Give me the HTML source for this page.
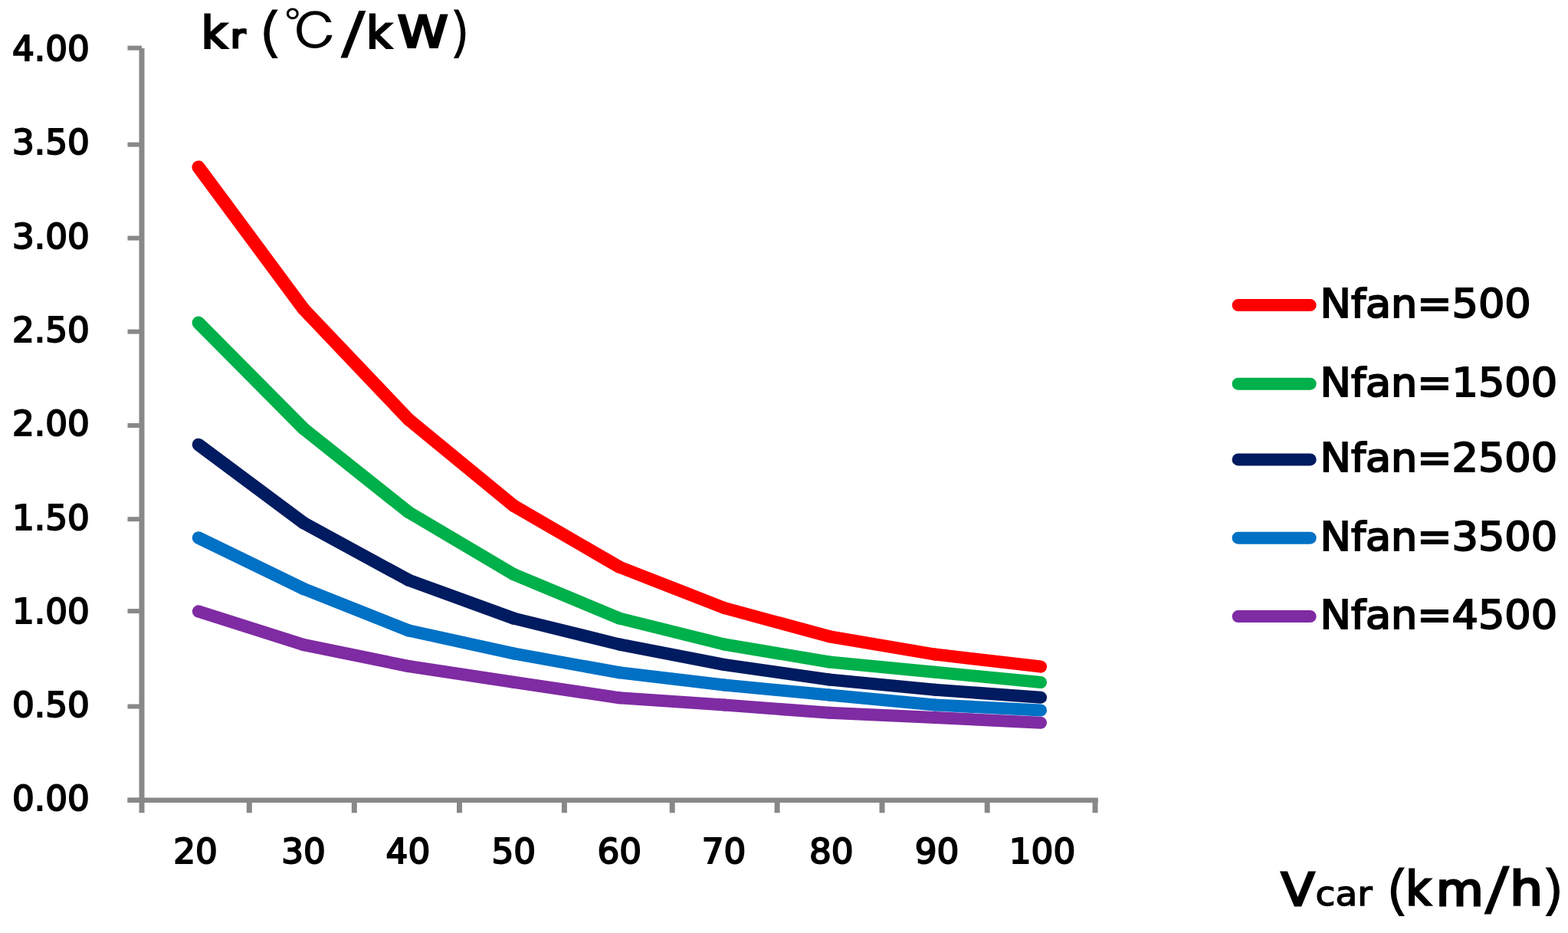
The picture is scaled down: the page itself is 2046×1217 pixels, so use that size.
<!DOCTYPE html>
<html><head><meta charset="utf-8"><title>kr vs Vcar chart</title>
<style>
html,body{margin:0;padding:0;background:#fff;}
body{width:2046px;height:1217px;overflow:hidden;}
svg{display:block;}
text{font-family:"DejaVu Sans", "Liberation Sans", sans-serif;font-weight:normal;fill:#000;}
text.b{font-weight:bold;}
text.cjk,tspan.cjk{font-family:"IPAGothic", "Noto Sans CJK JP", sans-serif;font-weight:normal;}
</style></head><body>
<svg width="2046" height="1217" viewBox="0 0 2046 1217">
<rect width="2046" height="1217" fill="#fff"/>
<g stroke="#888888">
<line x1="185" y1="63" x2="185" y2="1060.3" stroke-width="7"/>
<line x1="166.5" y1="1043.8" x2="1432.8" y2="1043.8" stroke-width="6.4"/>
<line x1="166.5" y1="62.6" x2="185" y2="62.6" stroke-width="6"/>
<line x1="166.5" y1="188.6" x2="185" y2="188.6" stroke-width="6"/>
<line x1="166.5" y1="310.6" x2="185" y2="310.6" stroke-width="6"/>
<line x1="166.5" y1="432.6" x2="185" y2="432.6" stroke-width="6"/>
<line x1="166.5" y1="555" x2="185" y2="555" stroke-width="6"/>
<line x1="166.5" y1="677.2" x2="185" y2="677.2" stroke-width="6"/>
<line x1="166.5" y1="797.1" x2="185" y2="797.1" stroke-width="6"/>
<line x1="166.5" y1="921.5" x2="185" y2="921.5" stroke-width="6"/>
<line x1="166.5" y1="1043.7" x2="185" y2="1043.7" stroke-width="6"/>
<line x1="325.3" y1="1043" x2="325.3" y2="1060.3" stroke-width="7"/>
<line x1="462.3" y1="1043" x2="462.3" y2="1060.3" stroke-width="7"/>
<line x1="599.5" y1="1043" x2="599.5" y2="1060.3" stroke-width="7"/>
<line x1="736.4" y1="1043" x2="736.4" y2="1060.3" stroke-width="7"/>
<line x1="877.2" y1="1043" x2="877.2" y2="1060.3" stroke-width="7"/>
<line x1="1014.1" y1="1043" x2="1014.1" y2="1060.3" stroke-width="7"/>
<line x1="1151.0" y1="1043" x2="1151.0" y2="1060.3" stroke-width="7"/>
<line x1="1288.2" y1="1043" x2="1288.2" y2="1060.3" stroke-width="7"/>
<line x1="1429" y1="1043" x2="1429" y2="1060.3" stroke-width="7"/>
</g>
<g font-weight="normal" stroke="#000" stroke-width="2.0">
<text transform="matrix(1.0000,0,0,0.9722,16.00,79.23)" font-size="45.3">4.00</text>
<text transform="matrix(1.0000,0,0,0.9722,16.00,201.43)" font-size="45.3">3.50</text>
<text transform="matrix(1.0000,0,0,0.9722,16.00,323.73)" font-size="45.3">3.00</text>
<text transform="matrix(1.0000,0,0,0.9722,16.00,445.83)" font-size="45.3">2.50</text>
<text transform="matrix(1.0000,0,0,0.9722,16.00,567.93)" font-size="45.3">2.00</text>
<text transform="matrix(1.0000,0,0,0.9722,16.00,690.53)" font-size="45.3">1.50</text>
<text transform="matrix(1.0000,0,0,0.9722,16.00,813.23)" font-size="45.3">1.00</text>
<text transform="matrix(1.0000,0,0,0.9722,16.00,934.73)" font-size="45.3">0.50</text>
<text transform="matrix(1.0000,0,0,0.9722,16.00,1057.03)" font-size="45.3">0.00</text>
<text transform="matrix(1.0000,0,0,0.9722,255.00,1126.23)" font-size="45.3" text-anchor="middle">20</text>
<text transform="matrix(1.0000,0,0,0.9722,396.00,1126.23)" font-size="45.3" text-anchor="middle">30</text>
<text transform="matrix(1.0000,0,0,0.9722,532.40,1126.23)" font-size="45.3" text-anchor="middle">40</text>
<text transform="matrix(1.0000,0,0,0.9722,670.30,1126.23)" font-size="45.3" text-anchor="middle">50</text>
<text transform="matrix(1.0000,0,0,0.9722,808.20,1126.23)" font-size="45.3" text-anchor="middle">60</text>
<text transform="matrix(1.0000,0,0,0.9722,944.50,1126.23)" font-size="45.3" text-anchor="middle">70</text>
<text transform="matrix(1.0000,0,0,0.9722,1084.80,1126.23)" font-size="45.3" text-anchor="middle">80</text>
<text transform="matrix(1.0000,0,0,0.9722,1222.60,1126.23)" font-size="45.3" text-anchor="middle">90</text>
<text transform="matrix(1.0000,0,0,0.9722,1360.00,1126.23)" font-size="45.3" text-anchor="middle">100</text>
</g>
<g stroke="#FF0000" stroke-linecap="round"><line x1="259" y1="218" x2="396" y2="403" stroke-width="17.20"/><line x1="396" y1="403" x2="533" y2="547" stroke-width="16.93"/><line x1="533" y1="547" x2="670" y2="659.5" stroke-width="16.73"/><line x1="670" y1="659.5" x2="808" y2="739.5" stroke-width="16.52"/><line x1="808" y1="739.5" x2="945" y2="793" stroke-width="16.35"/><line x1="945" y1="793" x2="1082" y2="830.2" stroke-width="16.24"/><line x1="1082" y1="830.2" x2="1220" y2="853.6" stroke-width="16.15"/><line x1="1220" y1="853.6" x2="1358" y2="869.6" stroke-width="16.10"/></g>
<g stroke="#00B04A" stroke-linecap="round"><line x1="259" y1="421" x2="396" y2="559" stroke-width="16.90"/><line x1="396" y1="559" x2="533" y2="668" stroke-width="16.71"/><line x1="533" y1="668" x2="670" y2="749" stroke-width="16.53"/><line x1="670" y1="749" x2="808" y2="806.5" stroke-width="16.37"/><line x1="808" y1="806.5" x2="945" y2="840.5" stroke-width="16.22"/><line x1="945" y1="840.5" x2="1082" y2="863.5" stroke-width="16.15"/><line x1="1082" y1="863.5" x2="1220" y2="876.7" stroke-width="16.09"/><line x1="1220" y1="876.7" x2="1358" y2="890" stroke-width="16.09"/></g>
<g stroke="#001B60" stroke-linecap="round"><line x1="259" y1="580" x2="396" y2="682" stroke-width="16.66"/><line x1="396" y1="682" x2="533" y2="756.6" stroke-width="16.48"/><line x1="533" y1="756.6" x2="670" y2="806.5" stroke-width="16.32"/><line x1="670" y1="806.5" x2="808" y2="840.5" stroke-width="16.22"/><line x1="808" y1="840.5" x2="945" y2="867" stroke-width="16.17"/><line x1="945" y1="867" x2="1082" y2="886.5" stroke-width="16.13"/><line x1="1082" y1="886.5" x2="1220" y2="899.8" stroke-width="16.09"/><line x1="1220" y1="899.8" x2="1358" y2="909.8" stroke-width="16.06"/></g>
<g stroke="#0071C5" stroke-linecap="round"><line x1="259" y1="701.5" x2="396" y2="768" stroke-width="16.43"/><line x1="396" y1="768" x2="533" y2="822.4" stroke-width="16.35"/><line x1="533" y1="822.4" x2="670" y2="852.4" stroke-width="16.19"/><line x1="670" y1="852.4" x2="808" y2="877.3" stroke-width="16.16"/><line x1="808" y1="877.3" x2="945" y2="893.5" stroke-width="16.11"/><line x1="945" y1="893.5" x2="1082" y2="906.6" stroke-width="16.08"/><line x1="1082" y1="906.6" x2="1220" y2="919.5" stroke-width="16.08"/><line x1="1220" y1="919.5" x2="1358" y2="926.5" stroke-width="16.05"/></g>
<g stroke="#7F2BA3" stroke-linecap="round"><line x1="259" y1="797.5" x2="396" y2="841" stroke-width="16.28"/><line x1="396" y1="841" x2="533" y2="869" stroke-width="16.18"/><line x1="533" y1="869" x2="670" y2="889.8" stroke-width="16.13"/><line x1="670" y1="889.8" x2="808" y2="910.3" stroke-width="16.13"/><line x1="808" y1="910.3" x2="945" y2="919.6" stroke-width="16.06"/><line x1="945" y1="919.6" x2="1082" y2="929.7" stroke-width="16.07"/><line x1="1082" y1="929.7" x2="1220" y2="936" stroke-width="16.04"/><line x1="1220" y1="936" x2="1358" y2="942.8" stroke-width="16.04"/></g>
<g font-weight="normal" stroke="#000" stroke-width="2.1">
<line x1="1615.6" y1="398.1" x2="1709.7" y2="398.1" stroke="#FF0000" stroke-width="16" stroke-linecap="round"/>
<text transform="matrix(1.0100,0,0,0.9561,1722.46,414.04)" font-size="53.5">Nfan=500</text>
<line x1="1615.6" y1="500.7" x2="1709.7" y2="500.7" stroke="#00B04A" stroke-width="16" stroke-linecap="round"/>
<text transform="matrix(1.0100,0,0,0.9561,1722.46,516.64)" font-size="53.5">Nfan=1500</text>
<line x1="1615.6" y1="599.4" x2="1709.7" y2="599.4" stroke="#001B60" stroke-width="16" stroke-linecap="round"/>
<text transform="matrix(1.0100,0,0,0.9561,1722.46,615.34)" font-size="53.5">Nfan=2500</text>
<line x1="1615.6" y1="701.7" x2="1709.7" y2="701.7" stroke="#0071C5" stroke-width="16" stroke-linecap="round"/>
<text transform="matrix(1.0100,0,0,0.9561,1722.46,717.64)" font-size="53.5">Nfan=3500</text>
<line x1="1615.6" y1="804.1" x2="1709.7" y2="804.1" stroke="#7F2BA3" stroke-width="16" stroke-linecap="round"/>
<text transform="matrix(1.0100,0,0,0.9561,1722.46,820.04)" font-size="53.5">Nfan=4500</text>
</g>
<text><tspan x="262.87" y="61.62" font-size="57.62" textLength="33.55" lengthAdjust="spacingAndGlyphs" stroke="#000" stroke-width="3.0">k</tspan><tspan x="300.96" y="61.67" font-size="42.88" textLength="19.14" lengthAdjust="spacingAndGlyphs" stroke="#000" stroke-width="3.0">r</tspan> <tspan x="337.86" y="65.85" font-size="67.27" textLength="29.78" lengthAdjust="spacingAndGlyphs" style="font-weight:200" stroke="#000" stroke-width="3.2">(</tspan><tspan x="370.29" y="64.83" font-size="65.90" textLength="71.04" lengthAdjust="spacingAndGlyphs" class="cjk" stroke="none">℃</tspan><tspan x="445.70" y="66.82" font-size="70.75" textLength="30.23" lengthAdjust="spacingAndGlyphs" style="font-weight:200" stroke="#000" stroke-width="3.2">/</tspan><tspan x="478.17" y="61.63" font-size="57.24" textLength="32.72" lengthAdjust="spacingAndGlyphs" stroke="#000" stroke-width="3.0">k</tspan><tspan x="518.80" y="61.65" font-size="56.12" textLength="65.79" lengthAdjust="spacingAndGlyphs" stroke="#000" stroke-width="3.0">W</tspan><tspan x="587.48" y="65.90" font-size="66.95" textLength="24.90" lengthAdjust="spacingAndGlyphs" style="font-weight:200" stroke="#000" stroke-width="3.2">)</tspan></text>
<text><tspan x="1671.83" y="1181.24" font-size="59.29" textLength="43.55" lengthAdjust="spacingAndGlyphs" stroke="#000" stroke-width="3.0">V</tspan><tspan x="1716.58" y="1181.24" font-size="44.78" textLength="74.00" lengthAdjust="spacingAndGlyphs" stroke="#000" stroke-width="1.4">car</tspan> <tspan x="1808.32" y="1184.83" font-size="67.85" textLength="29.42" lengthAdjust="spacingAndGlyphs" style="font-weight:200" stroke="#000" stroke-width="3.2">(</tspan><tspan x="1834.39" y="1180.34" font-size="60.88" textLength="32.42" lengthAdjust="spacingAndGlyphs" stroke="#000" stroke-width="3.0">k</tspan><tspan x="1873.92" y="1181.34" font-size="59.32" textLength="61.55" lengthAdjust="spacingAndGlyphs" stroke="#000" stroke-width="3.0">m</tspan><tspan x="1937.88" y="1184.13" font-size="73.53" textLength="31.08" lengthAdjust="spacingAndGlyphs" style="font-weight:200" stroke="#000" stroke-width="3.2">/</tspan><tspan x="1970.24" y="1180.34" font-size="60.88" textLength="42.86" lengthAdjust="spacingAndGlyphs" stroke="#000" stroke-width="3.0">h</tspan><tspan x="2011.21" y="1184.87" font-size="67.64" textLength="29.75" lengthAdjust="spacingAndGlyphs" style="font-weight:200" stroke="#000" stroke-width="3.2">)</tspan></text>
</svg>
</body></html>
